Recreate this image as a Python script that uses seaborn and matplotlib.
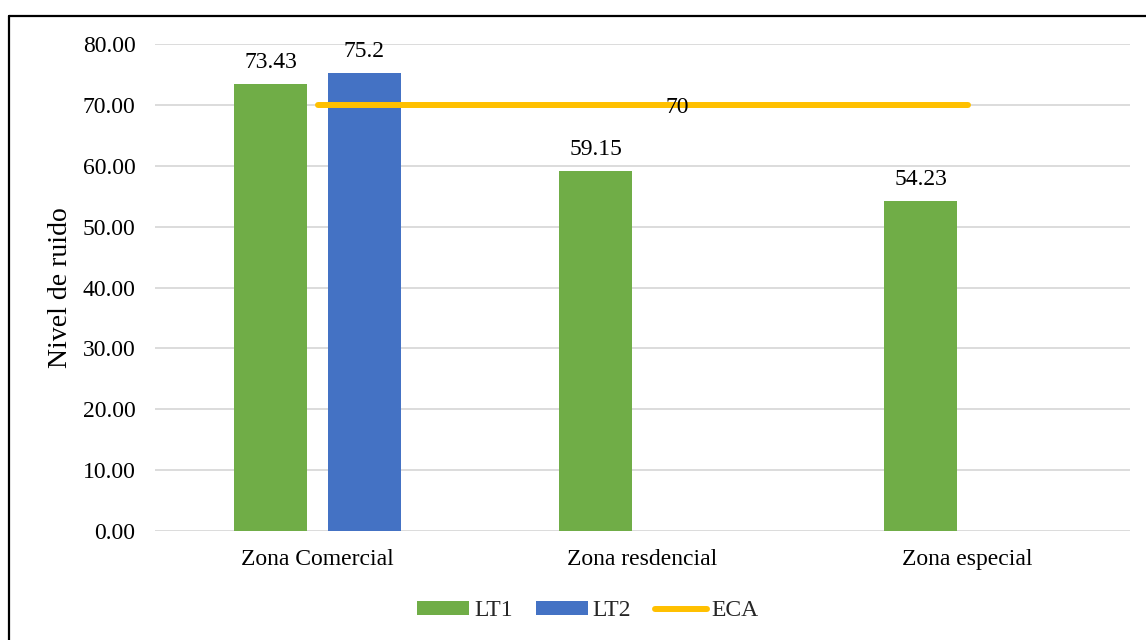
import pandas as pd
import seaborn as sns
import matplotlib.pyplot as plt
from matplotlib.lines import Line2D

# Datos
zonas = ["Zona Comercial", "Zona resdencial", "Zona especial"]
lt1 = [73.43, 59.15, 54.23]
lt2 = [75.2, None, None]
eca = [70, 70, 70]
yticks = [0, 10, 20, 30, 40, 50, 60, 70, 80]

rows = []
for z, v in zip(zonas, lt1):
    rows.append((z, "LT1", v))
for z, v in zip(zonas, lt2):
    if v is not None:
        rows.append((z, "LT2", v))
df = pd.DataFrame(rows, columns=["zona", "serie", "nivel"])

sns.set_theme(style="white")
plt.rcParams["font.family"] = ["Liberation Serif", "DejaVu Serif"]

W, H = 1146, 640
fig = plt.figure(figsize=(W / 100, H / 100), dpi=100)
ax = fig.add_axes([155 / W, 1 - 531 / H, 975 / W, 487 / H])

sns.barplot(
    data=df, x="zona", y="nivel", hue="serie",
    order=zonas, hue_order=["LT1", "LT2"],
    palette={"LT1": "#70AD47", "LT2": "#4472C4"},
    width=0.578, gap=0.223, saturation=1, errorbar=None,
    linewidth=0, ax=ax,
)

for cont in ax.containers:
    ax.bar_label(cont, fmt="{:g}", padding=8, fontsize=17, color="black")

# Línea de referencia ECA
sns.lineplot(x=[0, 1, 2], y=eca, color="#FFC000", linewidth=4.3,
             label="ECA", ax=ax, solid_capstyle="round", zorder=5)
ax.annotate(f"{eca[1]:g}", xy=(1, eca[1]), xytext=(25, -2),
            textcoords="offset points", ha="center", va="center",
            fontsize=17, color="black", zorder=6)

ax.set_xlim(-0.5, 2.5)
ax.set_ylim(0, 80)
ax.set_yticks(yticks)
ax.set_yticklabels([f"{t:.2f}" for t in yticks])
ax.yaxis.grid(True, color="#D9D9D9", linewidth=1.3)
ax.xaxis.grid(False)
ax.set_axisbelow(True)
for s in ax.spines.values():
    s.set_visible(False)
ax.tick_params(axis="y", length=0, pad=14, labelsize=17, colors="black")
ax.tick_params(axis="x", length=0, pad=13, labelsize=17, colors="black")
ax.set_xlabel("")
ax.set_ylabel("Nivel de ruido", fontsize=20, labelpad=7, color="black")

handles, labels = ax.get_legend_handles_labels()
if ax.get_legend() is not None:
    ax.get_legend().remove()
order = [labels.index(l) for l in ["LT1", "LT2", "ECA"]]
fig.legend([handles[i] for i in order], [labels[i] for i in order],
           loc="center", bbox_to_anchor=(588 / W, 1 - 611 / H), ncol=3,
           frameon=False, fontsize=17, handlelength=2.2, handleheight=0.5,
           handletextpad=0.2, columnspacing=1.0)

# Marco del gráfico
x0, y0 = 8.5 / W, 1 - 15.5 / H
fig.add_artist(Line2D([x0, x0], [0, y0], transform=fig.transFigure,
                      color="black", linewidth=1.6))
fig.add_artist(Line2D([x0, 1], [y0, y0], transform=fig.transFigure,
                      color="black", linewidth=1.6))

fig.savefig("out.png", dpi=100, facecolor="white")
